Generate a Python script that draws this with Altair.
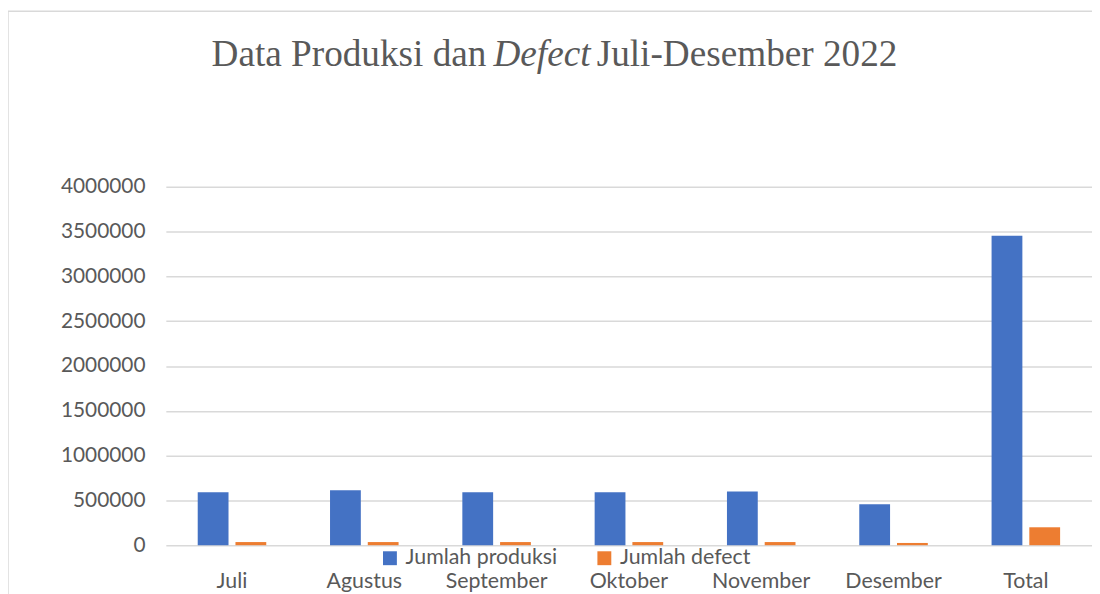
import altair as alt
import pandas as pd

months = ["Juli", "Agustus", "September", "Oktober", "November", "Desember", "Total"]
produksi = [590000, 612000, 590000, 590000, 600000, 458000, 3455000]
defect = [35000, 35000, 35000, 35000, 35000, 25000, 200000]
series = ["Jumlah produksi", "Jumlah defect"]
colors = ["#4472C4", "#ED7D31"]
y_ticks = [0, 500000, 1000000, 1500000, 2000000, 2500000, 3000000, 3500000, 4000000]
title_parts = ["Data Produksi dan", "Defect", "Juli-Desember 2022"]

rows = []
for m, p, d in zip(months, produksi, defect):
    rows.append({"bulan": m, "seri": series[0], "nilai": p})
    rows.append({"bulan": m, "seri": series[1], "nilai": d})
df = pd.DataFrame(rows)

W, H = 933, 361
GRAY = "#595959"

bars = alt.Chart(df).mark_bar().encode(
    x=alt.X("bulan:N", sort=months,
            scale=alt.Scale(paddingInner=0.482, paddingOuter=0.241),
            axis=alt.Axis(title=None, labelAngle=0, domain=False, ticks=False,
                          labelPadding=26, labelFont="Lato", labelFontSize=21.5,
                          labelColor=GRAY)),
    xOffset=alt.XOffset("seri:N", sort=series,
                        scale=alt.Scale(paddingInner=0.184, paddingOuter=0)),
    y=alt.Y("nilai:Q", scale=alt.Scale(domain=[0, 4000000], nice=False),
            axis=alt.Axis(title=None, values=y_ticks, format="d", grid=True,
                          gridColor="#d9d9d9", gridWidth=1.5, domain=False,
                          ticks=False, labelPadding=21, labelFont="Lato",
                          labelFontSize=21, labelColor=GRAY)),
    color=alt.Color("seri:N", sort=series,
                    scale=alt.Scale(domain=series, range=colors),
                    legend=alt.Legend(title=None, orient="none", legendX=215,
                                      legendY=363, direction="horizontal",
                                      symbolType="square", symbolSize=196,
                                      symbolStrokeWidth=0, labelFont="Lato",
                                      labelFontSize=21.5, labelColor=GRAY,
                                      labelOffset=5, columnPadding=36,
                                      padding=0)),
)

def title_piece(text, x, italic=False):
    return alt.Chart(alt.Data(values=[{"t": text}])).mark_text(
        align="left", baseline="alphabetic", font="Liberation Serif",
        fontSize=37.5, color=GRAY, fontStyle="italic" if italic else "normal"
    ).encode(x=alt.value(x), y=alt.value(-122), text="t:N")

t1 = title_piece(title_parts[0], 46)
t2 = title_piece(title_parts[1], 330, italic=True)
t3 = title_piece(title_parts[2], 434)

one = alt.Data(values=[{"k": 1}])
left_border = alt.Chart(one).mark_rule(color="#d9d9d9", strokeWidth=1.5).encode(
    x=alt.value(-159), y=alt.value(-177), y2=alt.value(420))
top_border = alt.Chart(one).mark_rule(color="#d9d9d9", strokeWidth=1.5).encode(
    x=alt.value(-159), x2=alt.value(W + 20), y=alt.value(-177))

chart = alt.layer(left_border, top_border, bars, t1, t2, t3).properties(
    width=W, height=H,
    autosize=alt.AutoSizeParams(type="none"),
    padding={"left": 159, "top": 178, "right": 0, "bottom": 47},
    background="white",
).configure_view(stroke=None)

chart.save("out.html", embed_options={"renderer": "svg", "actions": False})
